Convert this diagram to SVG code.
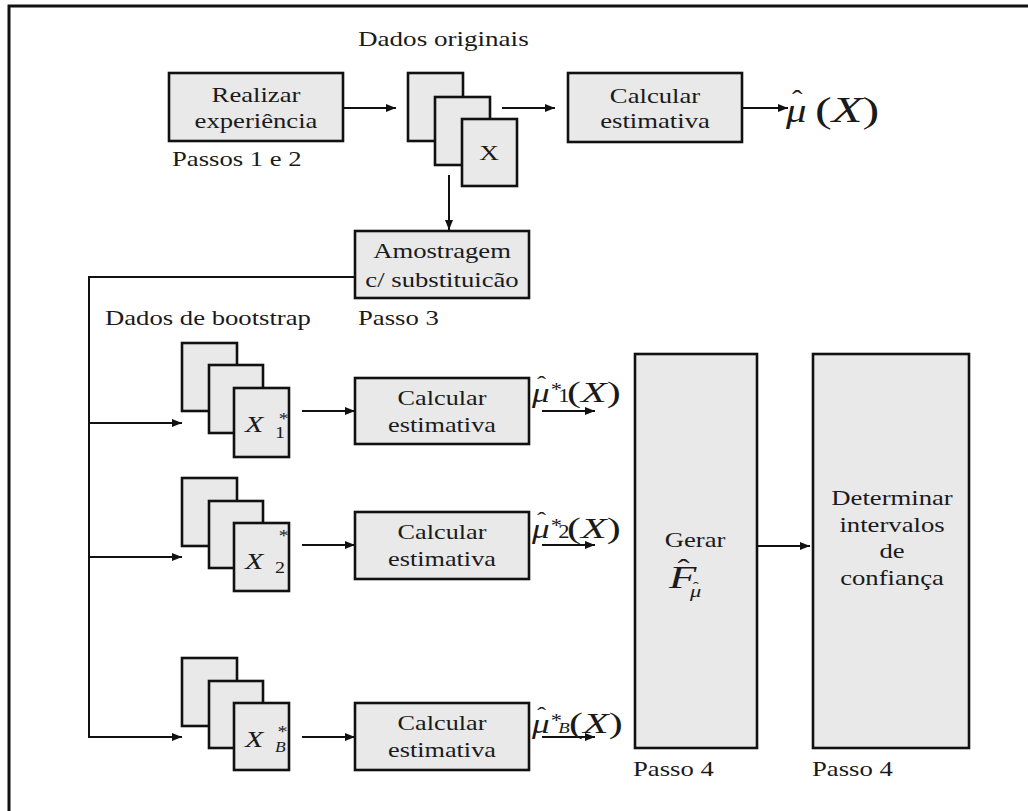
<svg xmlns="http://www.w3.org/2000/svg" width="1028" height="811" viewBox="0 0 1028 811" font-family="Liberation Serif, Times New Roman, serif">
<defs>
<style>
.box{fill:#e9e9e9;stroke:#111;stroke-width:2.6}
.ln{fill:none;stroke:#111;stroke-width:2}
text{font-family:"Liberation Serif","Times New Roman",serif;fill:#1a1a1a}
.t{font-size:21px}
.c{text-anchor:middle}
.i{font-style:italic}
</style>
<marker id="ah" viewBox="0 0 10 10" refX="10" refY="5" markerWidth="10" markerHeight="10" markerUnits="userSpaceOnUse" orient="auto">
<path d="M0,1 L10,5 L0,9 z" fill="#111"/>
</marker>
</defs>
<rect width="1028" height="811" fill="#fff"/>
<rect x="9" y="6" width="1040" height="840" fill="none" stroke="#111" stroke-width="3"/>

<g id="connectors">
<line class="ln" x1="343" y1="108" x2="396" y2="108" marker-end="url(#ah)"/>
<line class="ln" x1="502" y1="108" x2="555" y2="108" marker-end="url(#ah)"/>
<line class="ln" x1="742" y1="108" x2="788" y2="108" marker-end="url(#ah)"/>
<line class="ln" x1="449" y1="175" x2="449" y2="230" marker-end="url(#ah)"/>
<polyline class="ln" points="355,277 89,277 89,737"/>
<line class="ln" x1="88" y1="423" x2="182" y2="423" marker-end="url(#ah)"/>
<line class="ln" x1="88" y1="557" x2="182" y2="557" marker-end="url(#ah)"/>
<line class="ln" x1="88" y1="737" x2="182" y2="737" marker-end="url(#ah)"/>
<line class="ln" x1="302" y1="411" x2="355" y2="411" marker-end="url(#ah)"/>
<line class="ln" x1="302" y1="545" x2="355" y2="545" marker-end="url(#ah)"/>
<line class="ln" x1="302" y1="737" x2="355" y2="737" marker-end="url(#ah)"/>
<line class="ln" x1="542" y1="411" x2="595" y2="411" marker-end="url(#ah)"/>
<line class="ln" x1="542" y1="545" x2="595" y2="545" marker-end="url(#ah)"/>
<line class="ln" x1="542" y1="737" x2="595" y2="737" marker-end="url(#ah)"/>
<line class="ln" x1="757" y1="546" x2="810" y2="546" marker-end="url(#ah)"/>
</g>

<g id="realizar">
<rect class="box" x="169" y="73" width="174" height="68"/>
<g transform="translate(256,102) scale(1.27,1)"><text class="t c">Realizar</text></g>
<g transform="translate(256,128) scale(1.27,1)"><text class="t c">experiência</text></g>
<g transform="translate(172,166) scale(1.27,1)"><text class="t">Passos 1 e 2</text></g>
</g>

<g id="dados-originais">
<g transform="translate(358,46) scale(1.29,1)"><text class="t">Dados originais</text></g>
<rect class="box" x="408" y="73" width="55" height="68"/>
<rect class="box" x="435" y="97" width="55" height="68"/>
<rect class="box" x="462" y="119" width="55" height="67"/>
<g transform="translate(489,160) scale(1.3,1)"><text class="t c">X</text></g>
</g>

<g id="calcular-top">
<rect class="box" x="568" y="73" width="174" height="69"/>
<g transform="translate(655,103) scale(1.27,1)"><text class="t c">Calcular</text></g>
<g transform="translate(655,128) scale(1.27,1)"><text class="t c">estimativa</text></g>
</g>

<g id="mu-hat-X">
<g transform="translate(786,122) scale(1.2,1)"><text font-size="34"><tspan class="i">μ</tspan><tspan x="5" y="-14" font-size="26">ˆ</tspan></text></g>
<g transform="translate(815,122) scale(1.4,1)"><text font-size="36">(<tspan class="i">X</tspan>)</text></g>
</g>

<g id="amostragem">
<rect class="box" x="355" y="231" width="174" height="67"/>
<g transform="translate(442,258) scale(1.27,1)"><text class="t c">Amostragem</text></g>
<g transform="translate(442,287) scale(1.27,1)"><text class="t c">c/ substituicão</text></g>
<g transform="translate(358,325) scale(1.27,1)"><text class="t">Passo 3</text></g>
<g transform="translate(105,325) scale(1.27,1)"><text class="t">Dados de bootstrap</text></g>
</g>

<g id="boot1">
<rect class="box" x="182" y="343" width="55" height="68"/>
<rect class="box" x="209" y="365" width="54" height="68"/>
<rect class="box" x="234" y="388" width="55" height="69"/>
<g transform="translate(245,432) scale(1.25,1)"><text font-size="24"><tspan class="i">X</tspan><tspan x="27" y="-8" font-size="16">*</tspan><tspan x="24" y="6" font-size="16">1</tspan></text></g>
</g>
<g id="calc1">
<rect class="box" x="355" y="378" width="174" height="66"/>
<g transform="translate(442,405) scale(1.25,1)"><text class="t c">Calcular</text></g>
<g transform="translate(442,432) scale(1.25,1)"><text class="t c">estimativa</text></g>
</g>
<g id="mu1">
<g transform="translate(532,402) scale(1.25,1)"><text font-size="28"><tspan class="i">μ</tspan><tspan x="4" y="-11" font-size="22">ˆ</tspan><tspan x="15" y="-6" font-size="18">*</tspan><tspan x="21" y="0" font-size="18">1</tspan></text></g>
<g transform="translate(567,402) scale(1.4,1)"><text font-size="30">(<tspan class="i">X</tspan>)</text></g>
</g>

<g id="boot2">
<rect class="box" x="182" y="478" width="55" height="68"/>
<rect class="box" x="209" y="501" width="54" height="67"/>
<rect class="box" x="234" y="523" width="55" height="68"/>
<g transform="translate(245,569) scale(1.25,1)"><text font-size="24"><tspan class="i">X</tspan><tspan x="27" y="-28" font-size="16">*</tspan><tspan x="24" y="4" font-size="16">2</tspan></text></g>
</g>
<g id="calc2">
<rect class="box" x="355" y="512" width="174" height="67"/>
<g transform="translate(442,539) scale(1.25,1)"><text class="t c">Calcular</text></g>
<g transform="translate(442,566) scale(1.25,1)"><text class="t c">estimativa</text></g>
</g>
<g id="mu2">
<g transform="translate(532,538) scale(1.25,1)"><text font-size="28"><tspan class="i">μ</tspan><tspan x="4" y="-11" font-size="22">ˆ</tspan><tspan x="15" y="-6" font-size="18">*</tspan><tspan x="21" y="0" font-size="18">2</tspan></text></g>
<g transform="translate(567,538) scale(1.4,1)"><text font-size="30">(<tspan class="i">X</tspan>)</text></g>
</g>

<g id="bootB">
<rect class="box" x="182" y="658" width="55" height="68"/>
<rect class="box" x="209" y="681" width="54" height="67"/>
<rect class="box" x="234" y="703" width="55" height="67"/>
<g transform="translate(245,747) scale(1.25,1)"><text font-size="24"><tspan class="i">X</tspan><tspan x="26" y="-10" font-size="16">*</tspan><tspan class="i" x="24" y="5" font-size="14">B</tspan></text></g>
</g>
<g id="calcB">
<rect class="box" x="355" y="703" width="174" height="67"/>
<g transform="translate(442,730) scale(1.25,1)"><text class="t c">Calcular</text></g>
<g transform="translate(442,757) scale(1.25,1)"><text class="t c">estimativa</text></g>
</g>
<g id="muB">
<g transform="translate(532,733) scale(1.25,1)"><text font-size="28"><tspan class="i">μ</tspan><tspan x="4" y="-11" font-size="22">ˆ</tspan><tspan x="15" y="-6" font-size="18">*</tspan><tspan class="i" x="21" y="0" font-size="15">B</tspan></text></g>
<g transform="translate(569,733) scale(1.4,1)"><text font-size="30">(<tspan class="i">X</tspan>)</text></g>
</g>

<g id="gerar">
<rect class="box" x="635" y="354" width="122" height="394"/>
<g transform="translate(695,547) scale(1.27,1)"><text class="t c">Gerar</text></g>
<g transform="translate(669,588) scale(1.4,1)"><text font-size="32"><tspan class="i">F</tspan><tspan x="6" y="-11" font-size="26">ˆ</tspan><tspan class="i" x="15" y="9" font-size="16">μ</tspan><tspan x="17" y="3" font-size="13">ˆ</tspan></text></g>
<g transform="translate(633,776) scale(1.27,1)"><text class="t">Passo 4</text></g>
</g>

<g id="determinar">
<rect class="box" x="813" y="354" width="156" height="394"/>
<g transform="translate(892,505) scale(1.27,1)"><text class="t c">Determinar</text></g>
<g transform="translate(892,532) scale(1.27,1)"><text class="t c">intervalos</text></g>
<g transform="translate(892,558) scale(1.27,1)"><text class="t c">de</text></g>
<g transform="translate(892,585) scale(1.27,1)"><text class="t c">confiança</text></g>
<g transform="translate(812,776) scale(1.27,1)"><text class="t">Passo 4</text></g>
</g>
</svg>
